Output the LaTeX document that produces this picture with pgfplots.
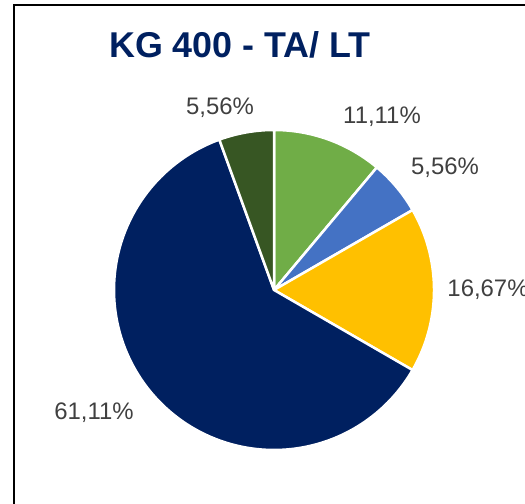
\documentclass[border=0pt]{standalone}
\usepackage{pgfplots}
\pgfplotsset{compat=1.18}
\usepackage{fontspec}
\setmainfont{Liberation Sans}
\definecolor{cGreen}{RGB}{112,173,71}
\definecolor{cBlue}{RGB}{68,114,196}
\definecolor{cYellow}{RGB}{255,192,0}
\definecolor{cNavy}{RGB}{0,32,96}
\definecolor{cDkGreen}{RGB}{55,86,35}
\definecolor{cTitle}{RGB}{0,32,96}
\definecolor{cLabel}{RGB}{64,64,64}
% shares in percent, clockwise from 12 o'clock
\def\vA{11.11}\def\vB{5.56}\def\vC{16.67}\def\vD{61.11}\def\vE{5.56}
\begin{document}
\begin{tikzpicture}[x=1bp,y=1bp]
\useasboundingbox (0,0) rectangle (525,504);
\begin{axis}[
  at={(0,0)}, anchor=south west,
  scale only axis, width=525bp, height=504bp,
  xmin=0, xmax=525, ymin=0, ymax=504,
  hide axis, clip=false,
  trig format plots=deg,
  every axis plot/.append style={draw=white, line width=2.5bp, line join=round},
]
\pgfmathsetmacro{\cx}{274}\pgfmathsetmacro{\cy}{214}\pgfmathsetmacro{\r}{160}
\pgfmathsetmacro{\aA}{90}
\pgfmathsetmacro{\aB}{\aA-3.6*\vA}
\pgfmathsetmacro{\aC}{\aB-3.6*\vB}
\pgfmathsetmacro{\aD}{\aC-3.6*\vC}
\pgfmathsetmacro{\aE}{\aD-3.6*\vD}
\pgfmathsetmacro{\aF}{\aE-3.6*\vE}
\addplot[fill=cGreen, domain=\aB:\aA, samples=40] ({\cx+\r*cos(x)},{\cy+\r*sin(x)}) -- (axis cs:\cx,\cy) -- cycle;
\addplot[fill=cBlue, domain=\aC:\aB, samples=20] ({\cx+\r*cos(x)},{\cy+\r*sin(x)}) -- (axis cs:\cx,\cy) -- cycle;
\addplot[fill=cYellow, domain=\aD:\aC, samples=50] ({\cx+\r*cos(x)},{\cy+\r*sin(x)}) -- (axis cs:\cx,\cy) -- cycle;
\addplot[fill=cNavy, domain=\aE:\aD, samples=150] ({\cx+\r*cos(x)},{\cy+\r*sin(x)}) -- (axis cs:\cx,\cy) -- cycle;
\addplot[fill=cDkGreen, domain=\aF:\aE, samples=20] ({\cx+\r*cos(x)},{\cy+\r*sin(x)}) -- (axis cs:\cx,\cy) -- cycle;
\node[text=cTitle, font=\fontsize{36}{40}\selectfont\bfseries] at (axis cs:240,459) {KG 400 - TA/ LT};
\begin{scope}[every node/.style={text=cLabel, font=\fontsize{24}{28}\selectfont}]
\node at (axis cs:382,387) {11,11\%};
\node at (axis cs:445,336) {5,56\%};
\node at (axis cs:488,214) {16,67\%};
\node at (axis cs:94,91) {61,11\%};
\node at (axis cs:220,396) {5,56\%};
\end{scope}
\end{axis}
\draw[black, line width=2bp] (13.5,-5) -- (13.5,499) -- (540,499);
\end{tikzpicture}
\end{document}
